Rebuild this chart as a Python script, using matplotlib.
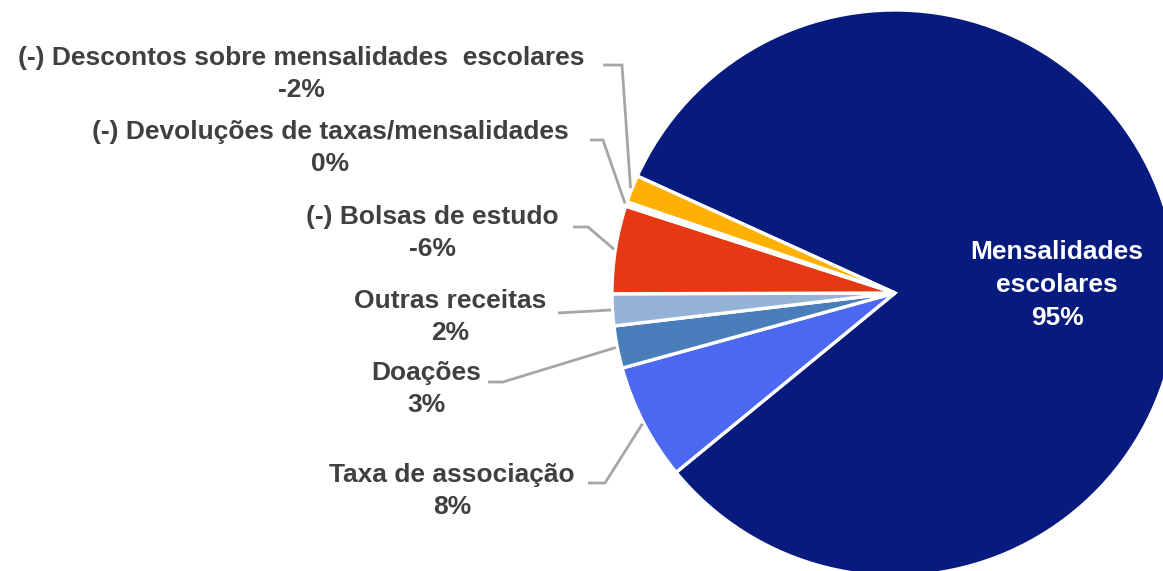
import numpy as np
import matplotlib
matplotlib.use("Agg")
import matplotlib.pyplot as plt

plt.rcParams["font.family"] = ["Liberation Sans", "DejaVu Sans"]

# share of net revenue (%), negatives are deductions
categories = [
    "Mensalidades\nescolares",
    "Taxa de associação",
    "Doações",
    "Outras receitas",
    "(-) Bolsas de estudo",
    "(-) Devoluções de taxas/mensalidades",
    "(-) Descontos sobre mensalidades  escolares",
]
values = [95.3, 7.7, 2.8, 2.1, -5.8, -0.3, -1.8]
colors = ["#071A7E", "#4C68F0", "#4A7EBB", "#95B3D7", "#E63812", "#FFFFFF", "#FFB000"]

TEXT = "#404040"
LEAD = "#A6A6A6"
FS = 19
LS = 1.45

# pie centre / radius in pixels (pie is cropped right and bottom)
CX, CY, R = 895, 293, 283
W, H = 1163, 571


def px(x, y):
    return (x - CX) / R, (CY - y) / R


fig = plt.figure(figsize=(W / 100, H / 100), dpi=100)
ax = fig.add_axes([0, 0, 1, 1])

wedges, _ = ax.pie(
    np.abs(values), colors=colors, startangle=155.6, counterclock=False,
    radius=1.0, center=(0, 0), frame=True,
    wedgeprops=dict(edgecolor="white", linewidth=2.4),
)
ax.set_xlim(-CX / R, (W - CX) / R)
ax.set_ylim(-(H - CY) / R, CY / R)
ax.set_aspect("auto")
ax.axis("off")

# label centre, leader start and elbow, pixels
label_pos = {
    1: ((452, 491), (588, 483), (605, 483)),
    2: ((426, 389), (488, 382), (503, 382)),
    3: ((450, 317), (558, 313), (558, 313)),
    4: ((432, 233), (573, 227), (588, 227)),
    5: ((330, 148), (590, 140), (603, 140)),
    6: ((301, 74), (603, 65), (622, 65)),
}

for i, w in enumerate(wedges):
    txt = f"{categories[i]}\n{int(round(values[i]))}%"
    if i == 0:
        x, y = px(1057, 285)
        ax.text(x, y, txt, ha="center", va="center", color="white",
                fontsize=FS, fontweight="bold", linespacing=LS)
        continue
    (lx, ly), (sx, sy), (ex, ey) = label_pos[i]
    x, y = px(lx, ly)
    ax.text(x, y, txt, ha="center", va="center", color=TEXT,
            fontsize=FS, fontweight="bold", linespacing=LS)
    mid = np.deg2rad((w.theta1 + w.theta2) / 2)
    tip = (1.005 * np.cos(mid), 1.005 * np.sin(mid))
    p0, p1 = px(sx, sy), px(ex, ey)
    ax.plot([p0[0], p1[0], tip[0]], [p0[1], p1[1], tip[1]],
            color=LEAD, lw=2, solid_capstyle="butt", solid_joinstyle="miter")

fig.savefig("out.png", dpi=100, facecolor="white")
